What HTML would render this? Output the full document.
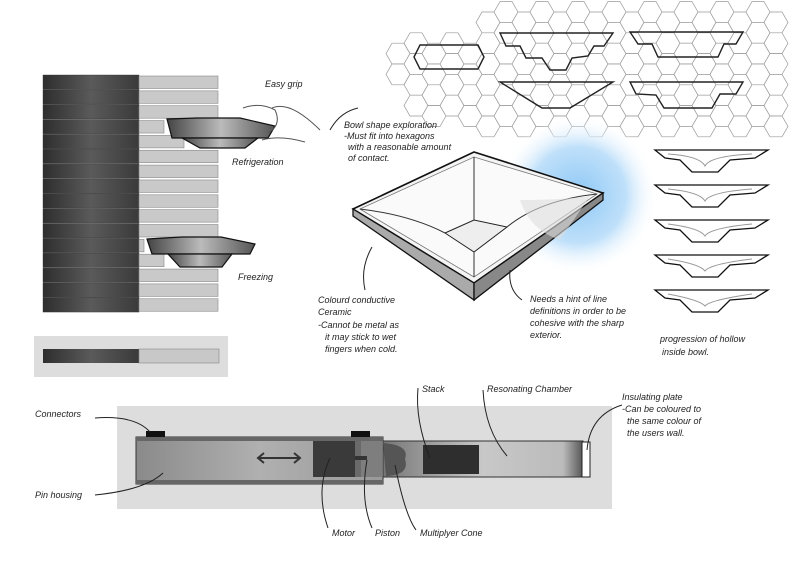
<!DOCTYPE html>
<html><head><meta charset="utf-8"><style>
html,body{margin:0;padding:0;background:#fff;width:800px;height:565px;overflow:hidden}
svg{display:block}
text{font-family:"Liberation Sans",sans-serif;font-size:9px;fill:#222;font-style:italic}
</style></head><body>
<svg width="800" height="565" viewBox="0 0 800 565" xmlns="http://www.w3.org/2000/svg">
<defs>
<linearGradient id="dk" x1="0" y1="0" x2="1" y2="0"><stop offset="0" stop-color="#2e2e2e"/><stop offset="0.5" stop-color="#5a5a5a"/><stop offset="1" stop-color="#3a3a3a"/></linearGradient>
<linearGradient id="bw" x1="0" y1="0" x2="1" y2="0"><stop offset="0" stop-color="#444"/><stop offset="0.5" stop-color="#bbb"/><stop offset="1" stop-color="#555"/></linearGradient>
<radialGradient id="glow"><stop offset="0" stop-color="#8ec8f5"/><stop offset="0.6" stop-color="#bfe0fa"/><stop offset="1" stop-color="#fff" stop-opacity="0"/></radialGradient>
<linearGradient id="tube" x1="0" y1="0" x2="1" y2="0"><stop offset="0" stop-color="#8a8a8a"/><stop offset="0.5" stop-color="#b0b0b0"/><stop offset="1" stop-color="#999"/></linearGradient>
<linearGradient id="res" x1="0" y1="0" x2="1" y2="0"><stop offset="0" stop-color="#777"/><stop offset="0.5" stop-color="#c8c8c8"/><stop offset="0.9" stop-color="#bbb"/><stop offset="1" stop-color="#555"/></linearGradient>
</defs>
<!-- hex grid -->
<g id="hex" fill="none" stroke="#999" stroke-width="0.7"></g>
<g fill="none" stroke="#222" stroke-width="1.4">
<path d="M414 57 L420 45 L478 45 L484 57 L478 69 L420 69 Z"/>
<path d="M500 33 L613 33 L604 46 L594 46 L588 56 L572 58 L566 70 L550 70 L542 58 L526 58 L520 46 L506 46 Z"/>
<path d="M500 82 L613 82 L570 108 L542 108 Z"/>
<path d="M630 32 L743 32 L736 44 L724 44 L718 57 L658 57 L652 44 L638 44 Z"/>
<path d="M630 82 L743 82 L736 94 L720 94 L712 108 L664 108 L656 95 L636 94 Z"/>
</g>
<!-- left stack -->
<g id="stack"></g>
<!-- bowls -->
<polygon points="167,119 197,118 240,118 275,126 268,138 172,138" fill="url(#bw)" stroke="#111" stroke-width="1.2"/>
<polygon points="182,138 258,138 245,148 200,148" fill="url(#bw)" stroke="#111" stroke-width="1.2"/>
<polygon points="147,239 182,237 221,237 255,244 250,254 152,254" fill="url(#bw)" stroke="#111" stroke-width="1.2"/>
<polygon points="168,254 232,254 222,267 180,267" fill="url(#bw)" stroke="#111" stroke-width="1.2"/>
<path d="M243 108 Q260 102 275 110 Q282 125 268 133 M272 108 Q290 100 320 130 M262 140 Q280 135 305 142" stroke="#555" fill="none" stroke-width="1"/>
<text x="265" y="87">Easy  grip</text>
<text x="232" y="165">Refrigeration</text>
<text x="238" y="280">Freezing</text>
<!-- small bar -->
<rect x="34" y="336" width="194" height="41" fill="#ddd"/>
<rect x="43" y="349" width="96" height="14" fill="url(#dk)"/>
<rect x="139" y="349" width="80" height="14" fill="#c8c8c8" stroke="#888" stroke-width="0.6"/>
<!-- bowl shape exploration text -->
<path d="M330 130 Q340 112 358 108" stroke="#222" fill="none"/>
<text x="344" y="128">Bowl shape exploration</text>
<text x="344" y="139">-Must fit into hexagons</text>
<text x="348" y="150">with a reasonable amount</text>
<text x="348" y="161">of contact.</text>
<!-- glow -->
<circle cx="578" cy="195" r="80" fill="url(#glow)"/>
<!-- 3D bowl -->
<polygon points="353,209 474,152 603,193 474,283" fill="#f4f4f4" stroke="#111" stroke-width="1.6"/>
<polygon points="353,209 474,283 474,300 353,216" fill="#aaa" stroke="#111" stroke-width="1.3"/>
<polygon points="474,283 603,193 603,200 474,300" fill="#888" stroke="#111" stroke-width="1.3"/>
<polygon points="360,209 474,157 597,194 474,277" fill="#fafafa" stroke="#777" stroke-width="0.8"/>
<polygon points="445,233 474,220 507,227 474,252" fill="#eee" stroke="#222" stroke-width="1"/>
<path d="M474 157 L474 220 M360 209 Q410 215 445 233 M597 194 Q540 200 507 227 M474 252 L474 277" stroke="#333" fill="none"/>
<path d="M520 200 Q560 200 590 196 L560 240 Q530 230 520 200Z" fill="#ddd" opacity="0.6"/>
<path d="M372 247 Q360 268 365 290" stroke="#222" fill="none"/>
<text x="318" y="303">Colourd conductive</text>
<text x="318" y="315">Ceramic</text>
<text x="318" y="328">-Cannot be metal as</text>
<text x="325" y="340">it may stick to wet</text>
<text x="325" y="352">fingers when cold.</text>
<path d="M510 270 Q508 290 522 300" stroke="#222" fill="none"/>
<text x="530" y="302">Needs a hint of line</text>
<text x="530" y="314">definitions in order to be</text>
<text x="530" y="326">cohesive with the sharp</text>
<text x="530" y="338">exterior.</text>
<!-- profiles -->
<g id="prof" fill="#fff" stroke="#111" stroke-width="1.3"></g>
<text x="660" y="342">progression of hollow</text>
<text x="662" y="355">inside bowl.</text>
<!-- bottom device -->
<rect x="117" y="406" width="495" height="103" fill="#ddd"/>
<rect x="136" y="437" width="247" height="47" fill="url(#tube)" stroke="#333"/>
<rect x="136" y="437" width="247" height="4" fill="#666"/>
<rect x="136" y="480" width="247" height="4" fill="#666"/>
<rect x="383" y="441" width="200" height="36" fill="url(#res)" stroke="#333"/>
<rect x="313" y="441" width="48" height="36" fill="#3a3a3a"/>
<rect x="355" y="441" width="28" height="36" fill="#777" opacity="0.8"/>
<rect x="355" y="456" width="12" height="4" fill="#333"/>
<path d="M383 443 Q410 445 405 459 Q410 475 386 476 Z" fill="#555"/>
<rect x="423" y="445" width="56" height="29" fill="#2e2e2e"/>
<rect x="582" y="442" width="8" height="35" fill="#fff" stroke="#222"/>
<rect x="146" y="431" width="19" height="6" fill="#111"/>
<rect x="351" y="431" width="19" height="6" fill="#111"/>
<path d="M258 458 L300 458 M264 453 L258 458 L264 463 M294 453 L300 458 L294 463" stroke="#333" stroke-width="2" fill="none"/>
<!-- labels -->
<path d="M95 418 Q135 415 150 432" stroke="#222" fill="none"/>
<text x="35" y="417">Connectors</text>
<path d="M163 473 Q145 490 95 495" stroke="#222" fill="none"/>
<text x="35" y="498">Pin housing</text>
<path d="M330 458 Q315 490 328 528" stroke="#222" fill="none"/><text x="332" y="536">Motor</text>
<path d="M367 460 Q360 500 372 528" stroke="#222" fill="none"/><text x="375" y="536">Piston</text>
<path d="M395 465 Q405 515 416 530" stroke="#222" fill="none"/><text x="420" y="536">Multiplyer Cone</text>
<path d="M430 458 Q415 420 418 388" stroke="#222" fill="none"/><text x="422" y="392">Stack</text>
<path d="M507 456 Q485 430 483 390" stroke="#222" fill="none"/><text x="487" y="392">Resonating Chamber</text>
<path d="M587 450 Q590 415 622 405" stroke="#222" fill="none"/>
<text x="622" y="400">Insulating plate</text>
<text x="622" y="412">-Can be coloured to</text>
<text x="627" y="424">the same colour of</text>
<text x="627" y="436">the users wall.</text>
</svg>
<script>
var ns="http://www.w3.org/2000/svg";
var st=document.getElementById('stack');
for(var i=0;i<16;i++){var y=75+i*14.85;
 var a=document.createElementNS(ns,'rect');a.setAttribute('x',43);a.setAttribute('y',y);a.setAttribute('width',96);a.setAttribute('height',14.3);a.setAttribute('fill','url(#dk)');a.setAttribute('stroke','#333');a.setAttribute('stroke-width','0.4');st.appendChild(a);
 var b=document.createElementNS(ns,'rect');var w=79;if(i==3)w=25;if(i==4)w=45;if(i==11)w=5;if(i==12)w=25;
 b.setAttribute('x',139);b.setAttribute('y',y+1);b.setAttribute('width',w);b.setAttribute('height',12.5);b.setAttribute('fill','#c9c9c9');b.setAttribute('stroke','#888');b.setAttribute('stroke-width','0.6');st.appendChild(b);}
var hx=document.getElementById('hex');var r=12,dx=18,dy=20.8;
for(var c=0;c<22;c++){for(var k=0;k<7;k++){var cx=398+c*dx,cy=12+k*dy+(c%2?dy/2:0);
 if(cx>785||cy>135)continue;
 if(cx<480&&(cy<35||cy>125))continue;
 if(cx<410&&cy>90)continue;
 var p=[];for(var j=0;j<6;j++){var an=Math.PI/3*j;p.push((cx+r*Math.cos(an)).toFixed(1)+','+(cy+r*Math.sin(an)).toFixed(1));}
 var e=document.createElementNS(ns,'polygon');e.setAttribute('points',p.join(' '));e.setAttribute('fill','#fff');hx.appendChild(e);}}
var pr=document.getElementById('prof');
for(var i=0;i<5;i++){var y=150+i*35;
 var e=document.createElementNS(ns,'path');
 e.setAttribute('d','M655 '+y+' L768 '+y+' L755 '+(y+8)+' L730 '+(y+10)+' L718 '+(y+22)+' L692 '+(y+22)+' L680 '+(y+10)+' L665 '+(y+8)+' Z');pr.appendChild(e);
 var f=document.createElementNS(ns,'path');f.setAttribute('d','M668 '+(y+4)+' Q700 '+(y+6+i)+' 705 '+(y+16)+' Q710 '+(y+6+i)+' 752 '+(y+4));f.setAttribute('fill','none');f.setAttribute('stroke','#999');f.setAttribute('stroke-width','1');pr.appendChild(f);}
</script>
</body></html>
